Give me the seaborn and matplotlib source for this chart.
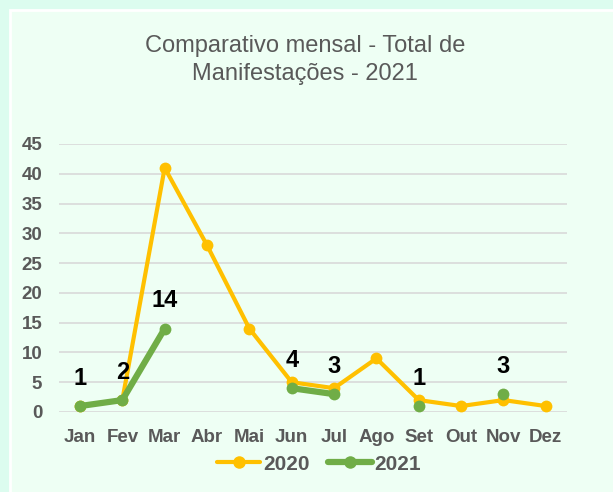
import numpy as np
import pandas as pd
import matplotlib
matplotlib.use("Agg")
import matplotlib.pyplot as plt
from matplotlib.patches import Rectangle
from matplotlib.lines import Line2D
import seaborn as sns

months = ["Jan", "Fev", "Mar", "Abr", "Mai", "Jun", "Jul", "Ago", "Set", "Out", "Nov", "Dez"]
v2020 = [1, 2, 41, 28, 14, 5, 4, 9, 2, 1, 2, 1]
v2021 = [1, 2, 14, np.nan, np.nan, 4, 3, np.nan, 1, np.nan, 3, np.nan]
yticks = [0, 5, 10, 15, 20, 25, 30, 35, 40, 45]

C2020 = "#FFC000"
C2021 = "#70AD47"
GREY = "#595959"

sns.set_theme(style="white")
plt.rcParams['font.family'] = ['Liberation Sans', 'DejaVu Sans']

fig = plt.figure(figsize=(6.13, 4.92), dpi=100)
fig.patch.set_facecolor("#DCFCEF")
fig.patches.append(Rectangle((10 / 613, -0.01), 1.0, 1 - 10 / 492 + 0.01, transform=fig.transFigure,
                             facecolor="#EEFFF4", edgecolor="white", linewidth=2, zorder=-5))

ax = fig.add_axes([58.8 / 613, 1 - 412 / 492, (567 - 58.8) / 613, (412 - 144) / 492])
ax.set_zorder(2)
ax.set_facecolor("none")

x = np.arange(len(months))
df20 = pd.DataFrame({"x": x, "y": v2020})
df21 = pd.DataFrame({"x": x, "y": v2021})

# 2021 segments (gaps preserved)
y21 = np.array(v2021, dtype=float)
valid = ~np.isnan(y21)
seg_id = np.cumsum(~valid)
sns.lineplot(data=df20, x="x", y="y", ax=ax, color=C2020, linewidth=3, marker="o",
             markersize=8.5, markeredgewidth=0, zorder=3, legend=False)
for s in np.unique(seg_id[valid]):
    d = df21[(seg_id == s) & valid]
    sns.lineplot(data=d, x="x", y="y", ax=ax, color=C2021, linewidth=4.5, marker="o",
                 markersize=8.5, markeredgewidth=0, zorder=4, legend=False)

for xi, yi in zip(x, v2021):
    if not np.isnan(yi):
        ax.annotate(f"{int(yi)}", (xi, yi), xytext=(0, 20), textcoords="offset points",
                    ha="center", va="center", fontsize=17, fontweight="bold", color="black")

ax.set_xlim(-0.5, 11.5)
ax.set_ylim(0, 45)
ax.set_yticks(yticks)
ax.set_yticklabels([str(t) for t in yticks])
ax.set_xticks(x)
ax.set_xticklabels(months)
ax.tick_params(axis="both", length=0, labelsize=13.5, labelcolor=GREY)
ax.tick_params(axis="x", pad=12)
ax.tick_params(axis="y", pad=12)
for lbl in ax.get_xticklabels() + ax.get_yticklabels():
    lbl.set_fontweight("bold")
ax.yaxis.grid(True, color="#D9D9D9", linewidth=1.2)
ax.set_axisbelow(True)
for sp in ax.spines.values():
    sp.set_visible(False)
ax.set_xlabel("")
ax.set_ylabel("")

fig.text(305 / 613, 1 - 60 / 492, "Comparativo mensal - Total de\nManifestações - 2021",
         ha="center", va="center", fontsize=17, color=GREY, linespacing=1.3)

handles = [Line2D([0], [0], color=C2020, lw=3, marker="o", markersize=9, markeredgewidth=0),
           Line2D([0], [0], color=C2021, lw=4.5, marker="o", markersize=9, markeredgewidth=0)]
leg = fig.legend(handles, ["2020", "2021"], loc="center", bbox_to_anchor=(319 / 613, 1 - 464 / 492),
                 ncol=2, frameon=False, handlelength=2.1, columnspacing=0.85, handletextpad=0.15,
                 prop={"weight": "bold", "size": 15})
for t in leg.get_texts():
    t.set_color(GREY)

fig.savefig("out.png", dpi=100, facecolor=fig.get_facecolor())
